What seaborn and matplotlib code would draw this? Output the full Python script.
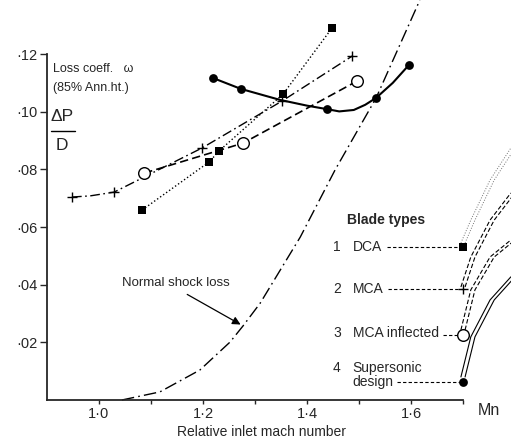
import numpy as np
import pandas as pd
import matplotlib
matplotlib.use('Agg')
import matplotlib.pyplot as plt
import seaborn as sns

sns.set_style("ticks")
plt.rcParams['font.family'] = ['Liberation Sans', 'DejaVu Sans']

# values (Mn, dP/D)
dca_mn = [1.083, 1.212, 1.231, 1.354, 1.448]
dca_loss = [0.0659, 0.0826, 0.0864, 0.1061, 0.1290]

mca_mn = [0.948, 0.983, 1.029, 1.198, 1.352, 1.487]
mca_loss = [0.0704, 0.0708, 0.0721, 0.0874, 0.1037, 0.1193]
mca_marked = [0, 2, 3, 4, 5]

infl_mn = [1.087, 1.277, 1.496]
infl_loss = [0.0787, 0.0891, 0.1106]

sup_mn = [1.219, 1.273, 1.348, 1.400, 1.438, 1.462, 1.490, 1.512, 1.533, 1.565, 1.596]
sup_loss = [0.1117, 0.1079, 0.1041, 0.1021, 0.1009, 0.1001, 0.1006, 0.1024, 0.1048, 0.1100, 0.1162]
sup_marked = [0, 1, 4, 8, 10]

shock_mn = [1.044, 1.117, 1.194, 1.252, 1.277, 1.310, 1.387, 1.454, 1.533, 1.617]
shock_loss = [0.0, 0.0028, 0.0104, 0.0201, 0.0257, 0.0336, 0.0565, 0.0798, 0.1048, 0.1387]

# legend rows
legend_names = ['DCA', 'MCA', 'MCA inflected', 'Supersonic\ndesign']
legend_y = [0.0531, 0.0385, 0.0232, 0.0111]
legend_line_y = [0.0531, 0.0385, 0.0225, 0.0062]
legend_line_x0 = [1.554, 1.556, 1.662, 1.573]

# the curves leaving the legend markers towards the right edge
tail_mn = [1.696, 1.715, 1.752, 1.792]
tail_dca = [0.0545, 0.0624, 0.0763, 0.0874]
tail_mca = [0.0392, 0.0496, 0.0624, 0.0718]
tail_infl = [0.0243, 0.0382, 0.0496, 0.0555]
tail_sup = [0.0080, 0.0219, 0.0347, 0.0427]

fig = plt.figure(figsize=(5.11, 4.40), dpi=100)
ax = fig.add_axes([47 / 511, 40 / 440, 464 / 511, 400 / 440])

def line(x, y, ls='-', dashes=None, lw=1.0):
    sns.lineplot(x=x, y=y, ax=ax, color='k', sort=False, estimator=None,
                 linewidth=lw, linestyle=ls)
    l = ax.lines[-1]
    if dashes is not None:
        l.set_dashes(dashes)
    l.set_clip_on(False)
    return l

# blade type curves
line(dca_mn, dca_loss, ls=':', lw=1.0)
line(mca_mn, mca_loss, dashes=(7, 2.5, 1.2, 2.5), lw=1.0)
line(infl_mn, infl_loss, dashes=(5, 2.5), lw=1.2)
line(sup_mn, sup_loss, lw=1.5)
line(shock_mn, shock_loss, dashes=(9, 3, 1.2, 3), lw=1.0)

sns.scatterplot(x=dca_mn, y=dca_loss, ax=ax, marker='s', color='k', s=30, linewidth=0, zorder=5)
sns.scatterplot(x=[mca_mn[i] for i in mca_marked], y=[mca_loss[i] for i in mca_marked],
                ax=ax, marker='+', color='k', s=60, linewidth=1.0, zorder=5)
sns.scatterplot(x=infl_mn, y=infl_loss, ax=ax, marker='o', facecolor='white',
                edgecolor='k', s=70, linewidth=1.0, zorder=5)
sns.scatterplot(x=[sup_mn[i] for i in sup_marked], y=[sup_loss[i] for i in sup_marked],
                ax=ax, marker='o', color='k', s=40, linewidth=0, zorder=5)

# legend block drawn as part of the figure
ax.text(1.477, 0.0624, 'Blade types', fontsize=10, fontweight='bold', va='center')
for i, name in enumerate(legend_names):
    ax.text(1.450, legend_y[i], str(i + 1), fontsize=10, va='center')
    if i < 3:
        ax.text(1.488, legend_y[i], name, fontsize=10, va='center')
    else:
        ax.text(1.488, legend_y[i], 'Supersonic', fontsize=10, va='center')
        ax.text(1.488, legend_line_y[i], 'design', fontsize=10, va='center')
    line([legend_line_x0[i], 1.700], [legend_line_y[i], legend_line_y[i]], dashes=(3, 2), lw=0.8)

sns.scatterplot(x=[1.700], y=[legend_line_y[0]], ax=ax, marker='s', color='k', s=30, linewidth=0, zorder=5)
sns.scatterplot(x=[1.700], y=[legend_line_y[1]], ax=ax, marker='+', color='k', s=60, linewidth=1.0, zorder=5)
sns.scatterplot(x=[1.700], y=[legend_line_y[2]], ax=ax, marker='o', facecolor='white',
                edgecolor='k', s=70, linewidth=1.0, zorder=5)
sns.scatterplot(x=[1.700], y=[legend_line_y[3]], ax=ax, marker='o', color='k', s=40, linewidth=0, zorder=5)

# tails (each drawn as a pair of close lines)
off = 0.008
for dx in (0, off):
    t = line([m + dx for m in tail_mn], tail_dca, ls=':', lw=0.7)
    t.set_color('0.45')
    line([m + dx for m in tail_mn], tail_mca, dashes=(4, 2), lw=0.8)
    line([m + dx for m in tail_mn], tail_infl, dashes=(4, 2), lw=0.8)
    line([m + dx for m in tail_mn], tail_sup, lw=0.8)

# annotations
ax.text(0.9115, 0.1148, 'Loss coeff.   ω', fontsize=9, va='center')
ax.text(0.9115, 0.1082, '(85% Ann.ht.)', fontsize=9, va='center')
ax.text(0.906, 0.0982, 'ΔP', fontsize=12.5, va='center')
ax.plot([0.907, 0.953], [0.0933, 0.0933], color='k', lw=1.0)
ax.text(0.917, 0.0882, 'D', fontsize=12.5, va='center')

ax.text(1.044, 0.0406, 'Normal shock loss', fontsize=9.5, va='center')
ax.annotate('', xy=(1.277, 0.0257), xytext=(1.165, 0.0371),
            arrowprops=dict(arrowstyle='-|>', color='k', lw=0.9, mutation_scale=12))

ax.text(1.729, -0.0035, 'Mn', fontsize=11.5, va='center', clip_on=False)
fig.text(261 / 511, 1 - 432 / 440, 'Relative inlet mach number', fontsize=10,
         ha='center', va='center')

# axes
ax.set_xlim(0.9, 0.9 + 464 / 520)
ax.set_ylim(0, 400 / 2883)
sns.despine(ax=ax)
ax.spines['left'].set_bounds(0, 0.12)
ax.spines['bottom'].set_bounds(0.9, 1.7)
ax.spines['left'].set_linewidth(1.3)
ax.spines['bottom'].set_linewidth(1.3)

ax.set_xticks([1.0, 1.2, 1.4, 1.6])
ax.set_xticklabels(['1·0', '1·2', '1·4', '1·6'], fontsize=10.5)
ax.set_xticks([1.1, 1.3, 1.5, 1.7], minor=True)
ax.set_yticks([0.02, 0.04, 0.06, 0.08, 0.10, 0.12])
ax.set_yticklabels(['·02', '·04', '·06', '·08', '·10', '·12'], fontsize=10.5)
ax.tick_params(axis='x', which='both', direction='out', length=3, width=1.0, pad=2)
ax.tick_params(axis='y', which='both', direction='out', length=5, width=1.0, pad=2)
ax.set_xlabel('')
ax.set_ylabel('')

fig.savefig('out.png', dpi=100)
plt.close(fig)
